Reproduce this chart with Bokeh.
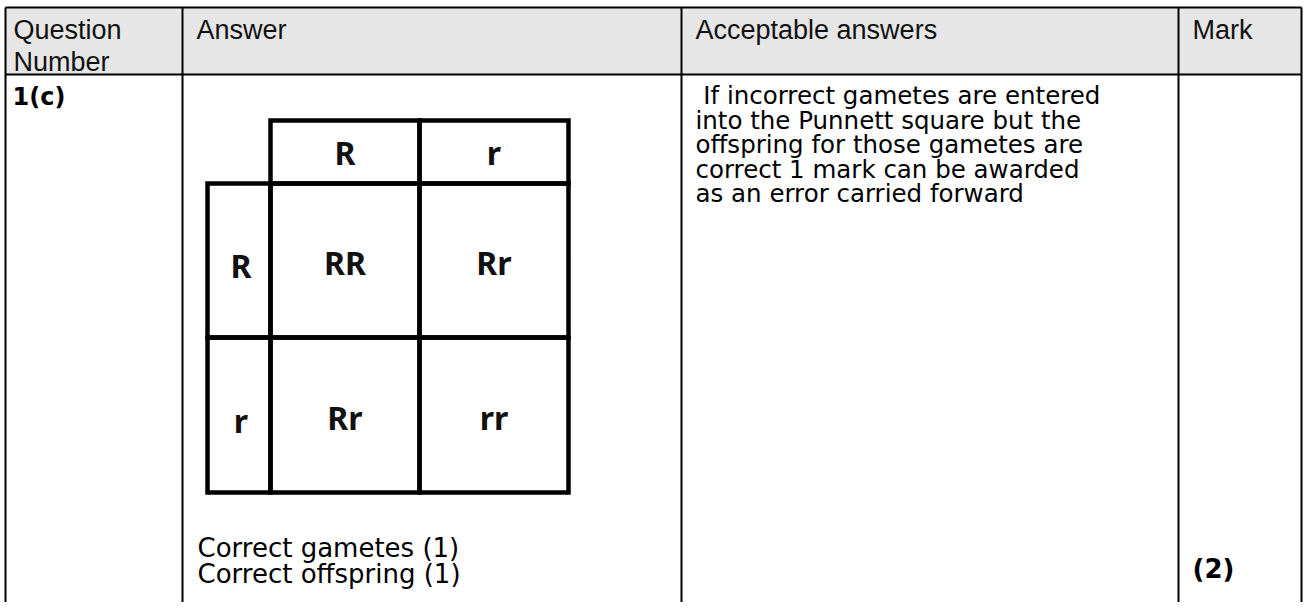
from bokeh.plotting import figure
from bokeh.models import Range1d
from bokeh.core.properties import value
from bokeh.embed import file_html
from bokeh.resources import INLINE

# ---- content (texts of the mark-scheme table) ----
header_col1 = ["Question", "Number"]
header_col2 = ["Answer"]
header_col3 = ["Acceptable answers"]
header_col4 = ["Mark"]
question_number = ["1(c)"]
answer_lines = ["Correct gametes (1)", "Correct offspring (1)"]
acceptable_lines = ["\u00a0If incorrect gametes are entered",
                    "into the Punnett square but the",
                    "offspring for those gametes are",
                    "correct 1 mark can be awarded",
                    "as an error carried forward"]
mark_text = ["(2)"]
gametes_top = ["R", "r"]
gametes_left = ["R", "r"]
offspring = [["RR", "Rr"], ["Rr", "rr"]]

# ---- layout (pixel geometry of the page) ----
FW, FH = 1303, 602
col_edges = [5, 182, 681, 1178, 1301]
table_top, header_bottom, table_bottom = 7, 74, 606
head_mid = [29, 61]
body_first_mid = 95
body_pitch = 24.5
answer_mid = [547, 573]
mark_mid = 568

sq_x = [207, 270, 419, 568]   # left gamete col, then two offspring columns
sq_y = [120, 183, 337, 492]   # gamete row, then two offspring rows

p = figure(width=FW, height=FH, x_range=Range1d(0, FW), y_range=Range1d(FH, 0),
           output_backend="svg", toolbar_location=None, min_border=0,
           x_axis_location=None, y_axis_location=None)
p.grid.visible = False
p.outline_line_color = None
p.background_fill_color = "white"
p.border_fill_color = "white"

# header band
p.quad(left=[col_edges[0]], right=[col_edges[-1]], top=[table_top], bottom=[header_bottom],
       fill_color="#e6e6e6", line_color=None)

# table rules
p.segment(x0=[col_edges[0], col_edges[0]], x1=[col_edges[-1], col_edges[-1]],
          y0=[table_top, header_bottom], y1=[table_top, header_bottom],
          line_color="black", line_width=2)
p.segment(x0=col_edges, x1=col_edges, y0=[table_top] * len(col_edges),
          y1=[table_bottom] * len(col_edges), line_color="black", line_width=2)

# header texts
hdr_font = value("Liberation Sans")
p.text(x=[col_edges[0] + 8] * len(header_col1), y=head_mid[:len(header_col1)], text=header_col1,
       text_font=hdr_font, text_font_size="27px", text_baseline="middle", text_color="#111111")
p.text(x=[col_edges[1] + 14, col_edges[2] + 14, col_edges[3] + 14],
       y=[head_mid[0]] * 3, text=header_col2 + header_col3 + header_col4,
       text_font=hdr_font, text_font_size="27px", text_baseline="middle", text_color="#111111")

# body texts
body_font = value("DejaVu Sans")
p.text(x=[col_edges[0] + 7], y=[body_first_mid + 1], text=question_number,
       text_font=body_font, text_font_size="24px", text_font_style="bold",
       text_baseline="middle", text_color="black")
p.text(x=[col_edges[2] + 14] * len(acceptable_lines),
       y=[body_first_mid + i * body_pitch for i in range(len(acceptable_lines))],
       text=acceptable_lines, text_font=body_font, text_font_size="24.5px",
       text_baseline="middle", text_color="black")
p.text(x=[col_edges[1] + 15] * len(answer_lines), y=answer_mid, text=answer_lines,
       text_font=body_font, text_font_size="26px", text_baseline="middle", text_color="black")
p.text(x=[col_edges[3] + 14], y=[mark_mid], text=mark_text,
       text_font=body_font, text_font_size="26px", text_font_style="bold",
       text_baseline="middle", text_color="black")

# Punnett square cells
lefts, rights, tops, bottoms = [], [], [], []
for j in range(2):  # gamete header row (top)
    lefts.append(sq_x[j + 1]); rights.append(sq_x[j + 2]); tops.append(sq_y[0]); bottoms.append(sq_y[1])
for i in range(2):  # gamete column (left)
    lefts.append(sq_x[0]); rights.append(sq_x[1]); tops.append(sq_y[i + 1]); bottoms.append(sq_y[i + 2])
for i in range(2):  # offspring cells
    for j in range(2):
        lefts.append(sq_x[j + 1]); rights.append(sq_x[j + 2]); tops.append(sq_y[i + 1]); bottoms.append(sq_y[i + 2])
p.quad(left=lefts, right=rights, top=tops, bottom=bottoms, fill_color=None,
       line_color="black", line_width=4.5, line_join="miter")

sq_font = value("Noto Sans")
tx, ty, tt = [], [], []
for j, g in enumerate(gametes_top):
    tx.append((sq_x[j + 1] + sq_x[j + 2]) / 2); ty.append((sq_y[0] + sq_y[1]) / 2); tt.append(g)
for i, g in enumerate(gametes_left):
    tx.append((sq_x[0] + sq_x[1]) / 2 + 2); ty.append((sq_y[i + 1] + sq_y[i + 2]) / 2 + 5); tt.append(g)
for i in range(2):
    for j in range(2):
        tx.append((sq_x[j + 1] + sq_x[j + 2]) / 2); ty.append((sq_y[i + 1] + sq_y[i + 2]) / 2 + 2); tt.append(offspring[i][j])
p.text(x=tx, y=ty, text=tt, text_font=sq_font, text_font_size="32px", text_font_style="bold",
       text_align="center", text_baseline="middle", text_color="#111111")

open("out.html", "w").write(file_html(p, INLINE))
